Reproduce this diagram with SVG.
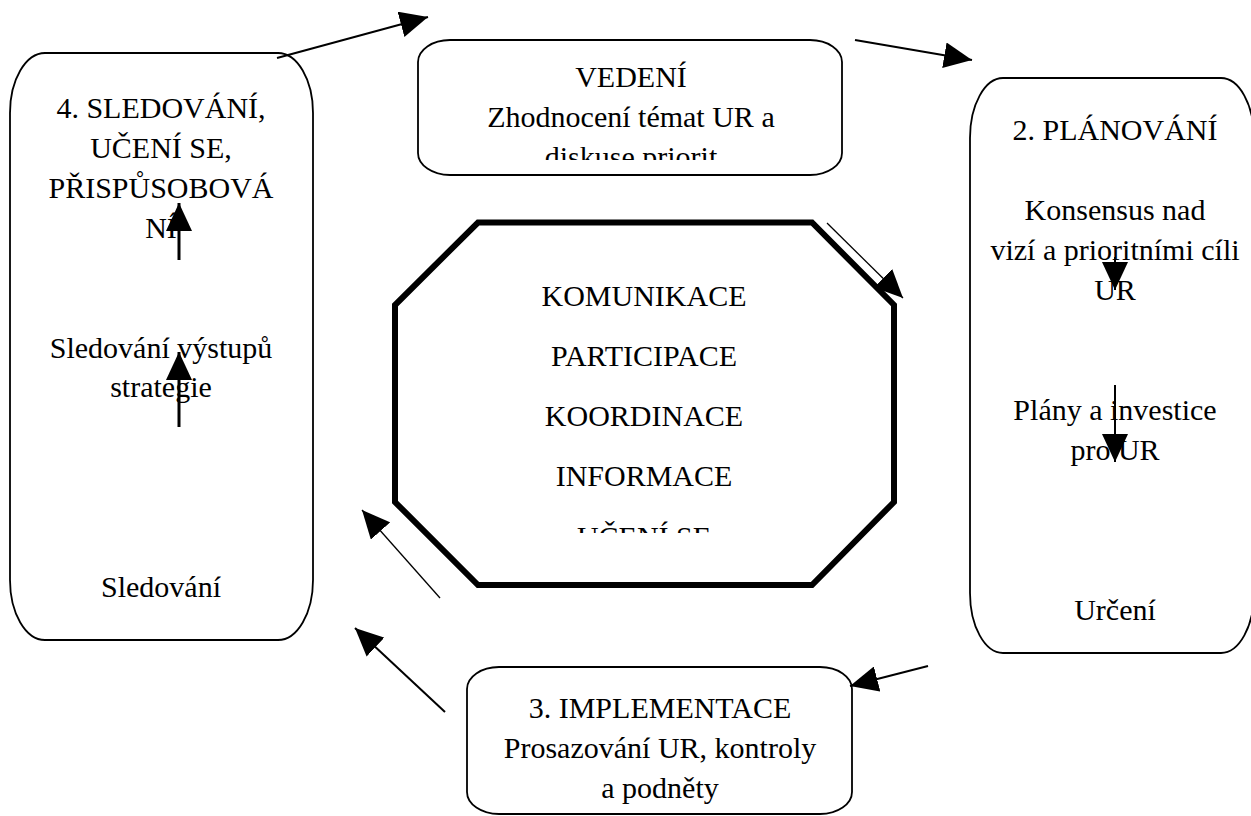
<svg xmlns="http://www.w3.org/2000/svg" width="1251" height="816" viewBox="0 0 1251 816">
<style>
.box{fill:#fff;stroke:#000;stroke-width:1.8}
.oct{fill:#fff;stroke:#000;stroke-width:6;stroke-linejoin:miter}
.t{font-family:"Liberation Serif","Times New Roman",serif;font-size:30px;fill:#000;text-anchor:middle}
.c{fill:none;stroke:#000;stroke-width:2}
.thin{fill:none;stroke:#000;stroke-width:1.3}
.v{fill:none;stroke:#000;stroke-width:3}
</style>
<defs>
<marker id="ah" viewBox="0 0 28 26" refX="28" refY="13" markerWidth="28" markerHeight="26" markerUnits="userSpaceOnUse" orient="auto">
<path d="M0,0 L28,13 L0,26 z" fill="#000"/>
</marker>
<clipPath id="clipVed"><rect x="418" y="40" width="424" height="120"/></clipPath>
<clipPath id="clipOct"><rect x="395" y="222" width="500" height="311"/></clipPath>
</defs>

<g id="node-sledovani">
<rect class="box" x="10" y="53" width="303" height="587" rx="35" ry="60"/>
<text class="t" x="161" y="118">4. SLEDOVÁNÍ,</text>
<text class="t" x="161" y="158">UČENÍ SE,</text>
<text class="t" x="161" y="198">PŘISPŮSOBOVÁ</text>
<text class="t" x="161" y="238">NÍ</text>
<text class="t" x="161" y="358">Sledování výstupů</text>
<text class="t" x="161" y="397">strategie</text>
<text class="t" x="161" y="597">Sledování</text>
</g>

<g id="node-vedeni">
<rect class="box" x="418" y="40" width="424" height="135" rx="32" ry="22"/>
<g clip-path="url(#clipVed)">
<text class="t" x="631" y="87">VEDENÍ</text>
<text class="t" x="631" y="127">Zhodnocení témat UR a</text>
<text class="t" x="631" y="167">diskuse priorit</text>
</g>
</g>

<g id="node-planovani">
<rect class="box" x="970" y="78" width="284" height="575" rx="33" ry="60"/>
<text class="t" x="1115" y="140">2. PLÁNOVÁNÍ</text>
<text class="t" x="1115" y="220">Konsensus nad</text>
<text class="t" x="1115" y="260">vizí a prioritními cíli</text>
<text class="t" x="1115" y="300">UR</text>
<text class="t" x="1115" y="420">Plány a investice</text>
<text class="t" x="1115" y="460">pro UR</text>
<text class="t" x="1115" y="620">Určení</text>
</g>

<g id="node-implementace">
<rect class="box" x="467" y="667" width="385" height="147" rx="32" ry="22"/>
<text class="t" x="660" y="718">3. IMPLEMENTACE</text>
<text class="t" x="660" y="758">Prosazování UR, kontroly</text>
<text class="t" x="660" y="798">a podněty</text>
</g>

<g id="node-center">
<polygon class="oct" points="478,222.5 812,222.5 894,305 894,502 812,585 478,585 395,502 395,305"/>
<g clip-path="url(#clipOct)">
<text class="t" x="644" y="306">KOMUNIKACE</text>
<text class="t" x="644" y="366">PARTICIPACE</text>
<text class="t" x="644" y="426">KOORDINACE</text>
<text class="t" x="644" y="486">INFORMACE</text>
<text class="t" x="644" y="547">UČENÍ SE</text>
</g>
</g>

<g id="connectors">
<line class="c" x1="277" y1="58" x2="428" y2="17" marker-end="url(#ah)"/>
<line class="c" x1="855" y1="40" x2="972" y2="60" marker-end="url(#ah)"/>
<line class="c" x1="928" y1="666" x2="850" y2="686" marker-end="url(#ah)"/>
<line class="c" x1="445" y1="712" x2="355" y2="628" marker-end="url(#ah)"/>
<line class="thin" x1="440" y1="598" x2="362" y2="510" marker-end="url(#ah)"/>
<line class="thin" x1="827" y1="223" x2="903" y2="298" marker-end="url(#ah)"/>
<line class="v" x1="179" y1="260" x2="179" y2="203" marker-end="url(#ah)"/>
<line class="v" x1="179" y1="427" x2="179" y2="352" marker-end="url(#ah)"/>
<line class="c" x1="1115" y1="257" x2="1115" y2="290" marker-end="url(#ah)"/>
<line class="c" x1="1115" y1="385" x2="1115" y2="462" marker-end="url(#ah)"/>
</g>
</svg>
